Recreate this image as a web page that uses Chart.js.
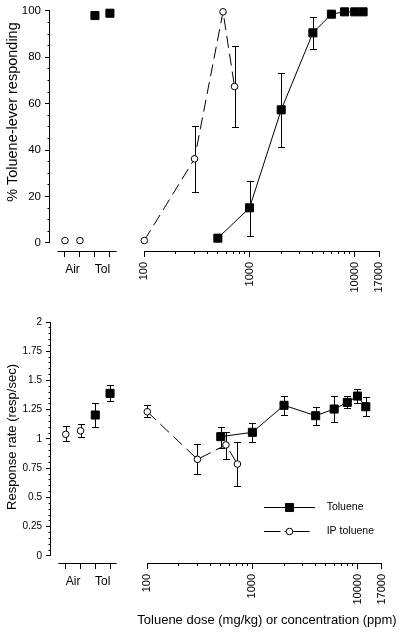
<!DOCTYPE html>
<html>
<head>
<meta charset="utf-8">
<script src="https://cdn.jsdelivr.net/npm/chart.js@4/dist/chart.umd.min.js"></script>
<style>
  html, body { margin: 0; padding: 0; background: #fff; }
  #fig { position: relative; width: 400px; height: 634px; overflow: hidden; font-family: 'Liberation Sans', Arial, sans-serif; color: #000; }
  #fig canvas { position: absolute; }
  .ttl { position: absolute; white-space: nowrap; line-height: 1; transform: translate(-50%, -50%); }
  .rot { transform: translate(-50%, -50%) rotate(-90deg); }
</style>
</head>
<body>
<div id="fig">
  <canvas id="pctCtrl" width="125" height="300" style="left:0;top:0"></canvas>
  <canvas id="pctDose" width="275" height="300" style="left:125px;top:0"></canvas>
  <canvas id="rateCtrl" width="125" height="334" style="left:0;top:300px"></canvas>
  <canvas id="rateDose" width="275" height="334" style="left:125px;top:300px"></canvas>
  <div class="ttl rot" style="left:11.5px;top:112px;font-size:14.5px">% Toluene-lever responding</div>
  <div class="ttl rot" style="left:10.5px;top:437px;font-size:13px">Response rate (resp/sec)</div>
  <div class="ttl" style="left:267px;top:619px;font-size:13px">Toluene dose (mg/kg) or concentration (ppm)</div>
</div>
<script>
// ===== DATA =====
var ctrlGroups = ['Air', 'Tol'];
var airSlots = [1, 2];
var tolSlots = [3, 4];

var ipDose  = [100, 300, 560, 720];
var tolConc = [500, 1000, 2000, 4000, 6000, 8000, 10000, 12000];

// % toluene-lever responding
var pctAir   = [1, 1];
var pctTol   = [98, 99];
var pctIp    = [1, 36, 99, 67];
var pctIpLo  = [null, 22, null, 49.5];
var pctIpHi  = [null, 50, null, 84.5];
var pctConc   = [2, 15, 57, 90, 98, 99, 99, 99];
var pctConcLo = [null, 3, 41, 83, null, null, null, null];
var pctConcHi = [null, 26.5, 73, 97, null, null, null, null];

// response rate (resp/sec)
var rateAir   = [1.04, 1.07];
var rateAirLo = [0.98, 1.02];
var rateAirHi = [1.11, 1.125];
var rateTol   = [1.205, 1.39];
var rateTolLo = [1.10, 1.325];
var rateTolHi = [1.305, 1.46];
var rateIp    = [1.233, 0.826, 0.949, 0.786];
var rateIpLo  = [1.19, 0.70, 0.83, 0.598];
var rateIpHi  = [1.288, 0.955, 1.06, 0.977];
var rateConc   = [1.02, 1.057, 1.288, 1.199, 1.256, 1.313, 1.367, 1.276];
var rateConcLo = [0.92, 0.977, 1.205, 1.12, 1.148, 1.262, 1.31, 1.2];
var rateConcHi = [1.105, 1.134, 1.368, 1.276, 1.368, 1.37, 1.425, 1.362];

// ticks
var pctMajor  = [0, 20, 40, 60, 80, 100];
var pctStep   = 5;
var rateMajor = [0, 0.25, 0.5, 0.75, 1, 1.25, 1.5, 1.75, 2];
var rateStep  = 0.05;
var doseMajor = [100, 1000, 10000, 17000];
var doseMinor = [200, 300, 400, 500, 600, 700, 800, 900, 2000, 3000, 4000, 5000, 6000, 7000, 8000, 9000];

// ===== HELPERS =====
var FONT = "'Liberation Sans', Arial, sans-serif";
Chart.defaults.font.family = FONT;
Chart.defaults.color = '#000';

function pts(xs, ys) { return xs.map(function (x, i) { return { x: x, y: ys[i] }; }); }
function isMajor(list, v) { return list.some(function (m) { return Math.abs(m - v) < 1e-9; }); }

var errorBars = {
  id: 'errorBars',
  beforeDatasetsDraw: function (chart) {
    var ctx = chart.ctx, xs = chart.scales.x, ys = chart.scales.y;
    ctx.save();
    ctx.strokeStyle = '#000'; ctx.lineWidth = 1;
    chart.data.datasets.forEach(function (ds) {
      if (!ds.errLo) return;
      ds.data.forEach(function (p, i) {
        if (ds.errLo[i] == null) return;
        var px = Math.round(xs.getPixelForValue(p.x)) + 0.5;
        var y1 = Math.round(ys.getPixelForValue(ds.errLo[i])) + 0.5;
        var y2 = Math.round(ys.getPixelForValue(ds.errHi[i])) + 0.5;
        ctx.beginPath();
        ctx.moveTo(px, y1); ctx.lineTo(px, y2);
        ctx.moveTo(px - 3.5, y1); ctx.lineTo(px + 3.5, y1);
        ctx.moveTo(px - 3.5, y2); ctx.lineTo(px + 3.5, y2);
        ctx.stroke();
      });
    });
    ctx.restore();
  }
};

// axis lines only over the value span, like the original plot
var axisLines = {
  id: 'axisLines',
  afterDraw: function (chart, args, o) {
    var ctx = chart.ctx, a = chart.chartArea;
    ctx.save();
    ctx.strokeStyle = '#000'; ctx.lineWidth = 1;
    ctx.beginPath();
    if (o.x) {
      var yy = Math.round(a.bottom) + 0.5;
      ctx.moveTo(chart.scales.x.getPixelForValue(o.x[0]), yy);
      ctx.lineTo(chart.scales.x.getPixelForValue(o.x[1]), yy);
    }
    if (o.y) {
      var xx = Math.round(a.left) - 0.5;
      ctx.moveTo(xx, chart.scales.y.getPixelForValue(o.y[0]));
      ctx.lineTo(xx, chart.scales.y.getPixelForValue(o.y[1]));
    }
    ctx.stroke();
    ctx.restore();
  }
};

var lineKey = {
  id: 'lineKey',
  afterDraw: function (chart, args, o) {
    if (!o.items) return;
    var ctx = chart.ctx, a = chart.chartArea;
    o.items.forEach(function (it, k) {
      var ds = chart.data.datasets[it.ds];
      var y = Math.round(a.top + o.top + k * o.gap) + 0.5;
      var x0 = a.left + o.left, xm = x0 + o.len / 2, x1 = x0 + o.len;
      ctx.save();
      ctx.strokeStyle = '#000'; ctx.lineWidth = 1;
      ctx.setLineDash(it.dashL); ctx.beginPath(); ctx.moveTo(xm, y); ctx.lineTo(x0, y); ctx.stroke();
      ctx.setLineDash(it.dashR); ctx.beginPath(); ctx.moveTo(xm, y); ctx.lineTo(x1, y); ctx.stroke();
      ctx.setLineDash([]);
      ctx.fillStyle = ds.pointBackgroundColor; ctx.strokeStyle = ds.pointBorderColor;
      Chart.helpers.drawPoint(ctx, { pointStyle: ds.pointStyle, radius: ds.pointRadius, borderWidth: 1, rotation: 0 }, xm, y);
      ctx.fillStyle = '#000';
      ctx.font = o.font + 'px ' + FONT;
      ctx.textBaseline = 'middle'; ctx.textAlign = 'left';
      ctx.fillText(ds.label, a.left + o.textX, y);
      ctx.restore();
    });
  }
};

function ipSet(xs, ys, lo, hi, line) {
  return { label: 'IP toluene', data: pts(xs, ys), errLo: lo, errHi: hi, showLine: line,
    borderColor: '#000', borderWidth: 1, borderDash: [12, 6],
    pointStyle: 'circle', pointRadius: 3.3, pointBackgroundColor: '#fff', pointBorderColor: '#000', pointBorderWidth: 1, clip: false };
}
function tolSet(xs, ys, lo, hi, line) {
  return { label: 'Toluene', data: pts(xs, ys), errLo: lo, errHi: hi, showLine: line,
    borderColor: '#000', borderWidth: 1,
    pointStyle: 'rect', pointRadius: 5.7, pointBackgroundColor: '#000', pointBorderColor: '#000', pointBorderWidth: 1, clip: false };
}

function yScale(show, lo, major, step, size, width) {
  var top = major[major.length - 1];
  return {
    display: show, min: lo, max: top, bounds: 'data',
    afterBuildTicks: function (s) {
      var t = [];
      for (var i = 0; i * step <= top + 1e-9; i++) t.push({ value: +(i * step).toFixed(4) });
      s.ticks = t;
    },
    afterFit: function (s) { s.width = width; },
    border: { display: false },
    grid: { drawOnChartArea: false, tickLength: 5, tickColor: '#000', tickWidth: 1,
      tickBorderDash: function (c) { return isMajor(major, c.tick.value) ? [] : [2.5, 2.5]; },
      tickBorderDashOffset: function (c) { return isMajor(major, c.tick.value) ? 0 : 2.5; } },
    ticks: { autoSkip: false, padding: 4, font: { size: size }, color: '#000',
      callback: function (v) { return isMajor(major, v) ? String(v) : ''; } }
  };
}

function ctrlX(h, size) {
  return {
    type: 'linear', min: 0, max: 4.56, bounds: 'data',
    afterBuildTicks: function (s) {
      var t = [];
      ctrlGroups.forEach(function (g, k) { t.push({ value: 2 * k + 1 }, { value: 2 * k + 1.5 }, { value: 2 * k + 2 }); });
      s.ticks = t;
    },
    afterFit: function (s) { s.height = h; },
    border: { display: false },
    grid: { drawOnChartArea: false, tickLength: 6, tickWidth: 1,
      tickColor: function (c) { return c.tick.value % 1 ? 'rgba(0,0,0,0)' : '#000'; } },
    ticks: { autoSkip: false, maxRotation: 0, padding: 5, font: { size: size }, color: '#000',
      callback: function (v) { return v % 1 ? ctrlGroups[(v - 1.5) / 2] : ''; } }
  };
}

function doseX(h, size) {
  return {
    type: 'logarithmic', min: 100, max: 17000, bounds: 'data',
    afterBuildTicks: function (s) {
      s.ticks = doseMajor.concat(doseMinor).sort(function (a, b) { return a - b; }).map(function (v) { return { value: v }; });
    },
    afterFit: function (s) { s.height = h; },
    border: { display: false },
    grid: { drawOnChartArea: false, tickLength: 6, tickColor: '#000', tickWidth: 1,
      tickBorderDash: function (c) { return isMajor(doseMajor, c.tick.value) ? [] : [3, 10]; } },
    ticks: { autoSkip: false, minRotation: 90, maxRotation: 90, padding: 5, font: { size: size }, color: '#000',
      callback: function (v) { return isMajor(doseMajor, v) ? String(v) : ''; } }
  };
}

function panel(id, datasets, pad, x, y, extra) {
  var plugins = { legend: { display: false }, tooltip: { enabled: false }, axisLines: extra.lines, lineKey: extra.key || {} };
  return new Chart(document.getElementById(id), {
    type: 'line',
    data: { datasets: datasets },
    options: {
      responsive: false, animation: false, events: [], devicePixelRatio: 1,
      layout: { padding: pad },
      plugins: plugins,
      scales: { x: x, y: y }
    },
    plugins: [errorBars, axisLines, lineKey]
  });
}

// ① % TOLUENE-LEVER RESPONDING
panel('pctCtrl',
  [ipSet(airSlots, pctAir, null, null, false), tolSet(tolSlots, pctTol, null, null, false)],
  { left: 0, right: 3, top: 9.5, bottom: 0 },
  ctrlX(49, 12), yScale(true, -3.5, pctMajor, pctStep, 11.5, 50),
  { lines: { x: [0.5, 4.45], y: [0, 100] } });

panel('pctDose',
  [ipSet(ipDose, pctIp, pctIpLo, pctIpHi, true), tolSet(tolConc, pctConc, pctConcLo, pctConcHi, true)],
  { left: 19.3, right: 21, top: 9.5, bottom: 0 },
  doseX(49, 11), yScale(false, -3.5, pctMajor, pctStep, 11.5, 0),
  { lines: { x: [100, 17000] } });

// ② RESPONSE RATE
panel('rateCtrl',
  [ipSet(airSlots, rateAir, rateAirLo, rateAirHi, false), tolSet(tolSlots, rateTol, rateTolLo, rateTolHi, false)],
  { left: 0, right: 2.5, top: 22, bottom: 0 },
  ctrlX(71, 12), yScale(true, -0.06, rateMajor, rateStep, 10, 51),
  { lines: { x: [0.5, 4.45], y: [0, 2] } });

panel('rateDose',
  [ipSet(ipDose, rateIp, rateIpLo, rateIpHi, true), tolSet(tolConc, rateConc, rateConcLo, rateConcHi, true)],
  { left: 22.3, right: 18.3, top: 22, bottom: 0 },
  doseX(71, 11), yScale(false, -0.06, rateMajor, rateStep, 10, 0),
  { lines: { x: [100, 17000] },
    key: { left: 116.7, top: 184.7, gap: 24, len: 51, textX: 179.4, font: 10.5,
      items: [ { ds: 1, dashL: [], dashR: [] }, { ds: 0, dashL: [5, 4, 20, 50], dashR: [20, 50] } ] } });
</script>
</body>
</html>
